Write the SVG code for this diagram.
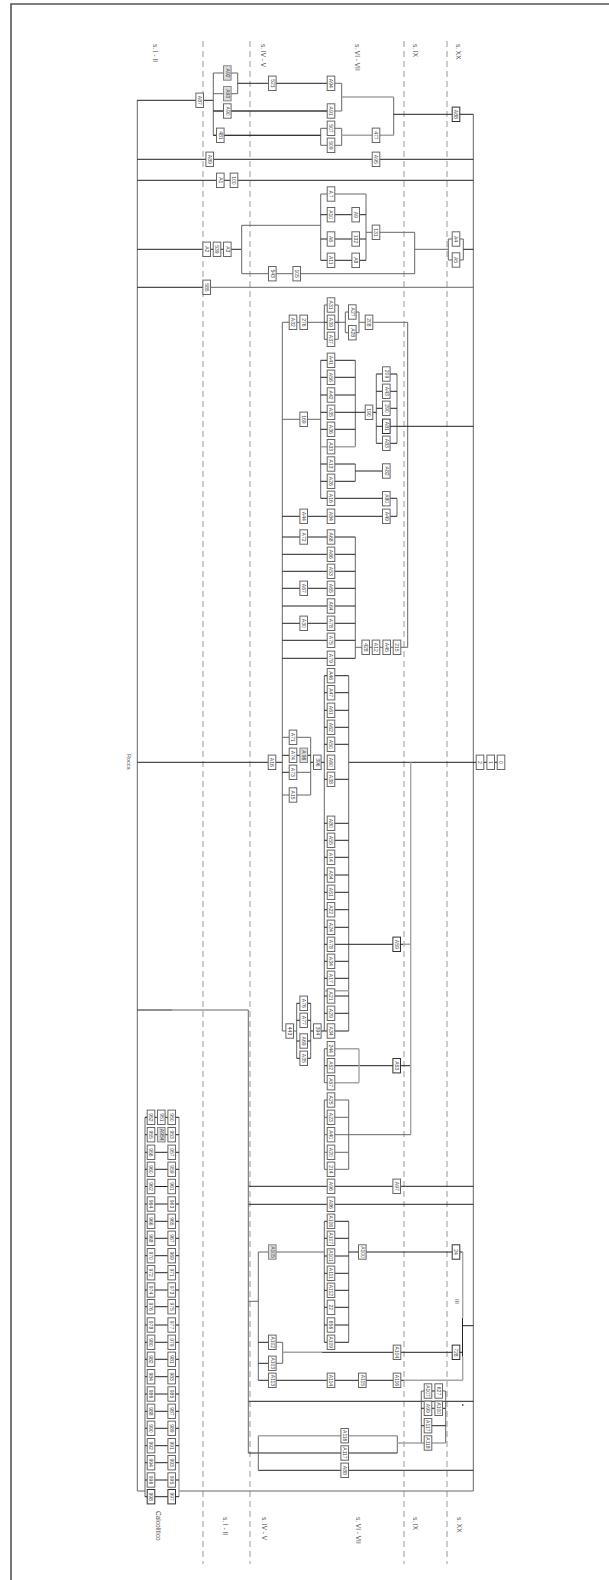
<svg xmlns="http://www.w3.org/2000/svg" width="609" height="1580" viewBox="0 0 609 1580">
<style>
text{font-family:"Liberation Sans",Arial,sans-serif;fill:#444;stroke:none}
.n{fill:#fff;stroke:#666;stroke-width:1}
.n text{font-size:5px;text-anchor:middle;transform:rotate(90deg) translateY(1.8px)}
.f{fill:#ddd;stroke:#888}
.k{stroke:#333}
.s{font-size:6.5px;fill:#555}
path{fill:none}
.d{stroke:#222;stroke-width:1}
.m{stroke:#666;stroke-width:1}
.l{stroke:#a5a5a5;stroke-width:1.4}
.da{stroke:#999;stroke-width:1;stroke-dasharray:6 4}
</style>
<defs><rect id="b" x="-3.8" y="-7.2" width="7.6" height="14.4"/></defs>
<g id="frame"><path d="M11 1580V4H609" stroke="#555" stroke-width="1.6"/></g>
<g id="section-lines"><path class="da" d="M203 41V1564M250 41V1564M404 41V1564M447 41V1564"/></g>
<g id="labels">
<text class="s" transform="translate(153 44) rotate(90)">s. I - II</text>
<text class="s" transform="translate(261 44) rotate(90)">s. IV - V</text>
<text class="s" transform="translate(355 44) rotate(90)">s. VI - VII</text>
<text class="s" transform="translate(413 44) rotate(90)">s. IX</text>
<text class="s" transform="translate(456 44) rotate(90)">s. XX</text>
<text class="s" transform="translate(223 1517) rotate(90)">s. I - II</text>
<text class="s" transform="translate(262 1517) rotate(90)">s. IV - V</text>
<text class="s" transform="translate(356 1517) rotate(90)">s. VI - VII</text>
<text class="s" transform="translate(413 1517) rotate(90)">s. IX</text>
<text class="s" transform="translate(457 1517) rotate(90)">s. XX</text>
<text class="s" transform="translate(156 1511) rotate(90)">Calcolitico</text>
<text class="s" style="font-size:5.5px" transform="translate(126.5 754) rotate(90)">Rocca</text>
<text class="s" style="font-size:6px" transform="translate(455 1299) rotate(90)">III</text>
</g>
<g id="connectors">
<path class="m" d="M137.3 100V1491M473.3 114.3V1491M137.3 1491H145M179 1491H473.3"/>
<path class="d" d="M137.3 100.3H213.3M137.3 159.3H473.3M137.3 180.3H473.3M137.3 249.3H241.7M137.3 287.3H203M137.3 762.3H282.3M348.7 762.3H501M137.3 1010H172M248.3 1186.3H473.3M248.3 1204.3H473.3M248.3 1401.3H473.3M248.3 1453H397.3M258.3 1470.3H473.3"/>
<path class="m" d="M203 287.3H473.3M172 1010H248.3V1453"/>
<path class="m" d="M213.3 73V135.3M213.3 73H227M213.3 93.7H227M213.3 111H331M213.3 135.3H320.7M237.7 73V93.7M227 73H237.7M227 93.7H237.7M341.7 83.3V111M331 111H341.7M331 83.3H341.7M393.7 97V135.3M320.7 128.3V145.3M320.7 128.3H331M320.7 145.3H331M341.7 128.3V145.3M331 128.3H341.7M331 145.3H341.7"/>
<path class="d" d="M237.7 83.3H331M213.3 111H331M213.3 135.3H320.7M393.7 114.3H473.3"/>
<path class="l" d="M341.7 97H393.7M341.7 135.3H393.7"/>
<path class="m" d="M241.7 225.3V273.7M241.7 225.3H320.7M241.7 273.7H414.7M320.7 194V260.3M366 194V260.3M320.7 194H366M366 232.3H414.7V273.7M414.7 249.3H448.3M448.3 239V260M463.3 239V260M448.3 239H456M448.3 260H456M456 239H463.3M456 260H463.3"/>
<path class="d" d="M320.7 214.7H366M320.7 239H366M320.7 260.3H366M463.3 249.3H473.3"/>
<path class="m" d="M282.3 322.3V1031M282.3 322.3H324.3M324.3 305V339.3M338.3 305V339.3M324.3 305H338.3M324.3 339.3H338.3M338.3 322.3H345.3M345.3 312V332.7M359 312V332.7M345.3 312H359M345.3 332.7H359M359 322.3H407.7V647.3"/>
<path class="d" d="M324.3 322.3H338.3"/>
<path class="m" d="M320.7 360.3V498.3M355.3 360.3V446.7M355.3 464V481.3M376.3 374V443.3M397 374V443.3M397 498.7V516.3M282.3 419.3H320.7"/>
<path class="d" d="M320.7 360.3H355.3M320.7 377.3H355.3M320.7 395H355.3M320.7 412.3H376.3M320.7 429.3H355.3M320.7 464H355.3M320.7 481.3H355.3M355.3 471H386M320.7 498.3H397M282.3 516.3H397M376.3 374H397M376.3 391.3H397M376.3 408.3H397M376.3 443.3H397M376.3 426.3H473.3"/>
<path class="l" d="M320.7 446.7H355.3"/>
<path class="m" d="M355.3 537V658.3M355.3 647.3H407.7"/>
<path class="d" d="M282.3 537H355.3M282.3 554.3H355.3M282.3 571.3H355.3M282.3 606H355.3M282.3 623.3H355.3M282.3 640.3H355.3M282.3 658.3H355.3M282.3 588.3H355.3"/>
<path class="m" d="M324.3 675.7V1031M348.7 675.7V1031M282.3 737.3H293M310.7 737.3V795M293 737.3H310.7M293 795H310.7M282.3 795H293M293 772.3H310.7M282.3 1031H296.7M296.7 1003.3V1058.3M310.7 1003.3V1058.3"/>
<path class="d" d="M282.3 755.3H310.7M282.3 772.3H293M310.7 762.3H324.3M324.3 675.7H348.7M324.3 692.7H348.7M324.3 710.3H348.7M324.3 727.3H348.7M324.3 744.3H348.7M324.3 779.3H348.7M324.3 823.3H348.7M324.3 840.3H348.7M324.3 857.3H348.7M324.3 875H348.7M324.3 892.3H348.7M324.3 909.7H348.7M324.3 927.3H348.7M324.3 944.3H403M324.3 961.3H348.7M324.3 978.3H348.7M324.3 996H348.7M324.3 1013.3H348.7M324.3 1031H348.7M296.7 1003.3H310.7M296.7 1020.3H310.7M296.7 1041H310.7M296.7 1058.3H310.7M310.7 1031H324.3M324.3 1065.7H410.7"/>
<path class="l" d="M324.3 990.8H348.7M410.7 762.3V1134.7M403 944.3H410.7M359 1048.7V1082.7M331 1048.7H359M331 1082.7H359"/>
<path class="m" d="M324.3 1048.7V1082.7M324.3 1048.7H331M324.3 1082.7H331M324.3 1100V1169.3M348.7 1100V1169.3M324.3 1100H348.7M324.3 1117.3H348.7M324.3 1134.7H410.7M324.3 1152.3H348.7M324.3 1169.3H348.7"/>
<path class="m" d="M248.3 1301.3H258.3M258.3 1252V1380.3M258.3 1435.7V1470.3M258.3 1252H324.3M324.3 1221.3V1342.3M348.7 1221.3V1342.3M282.7 1342.3V1363.3M272 1342.3H282.7M272 1363.3H282.7"/>
<path class="d" d="M324.3 1221.3H348.7M324.3 1238.3H348.7M324.3 1256H348.7M324.3 1273.3H348.7M324.3 1290.3H348.7M324.3 1307.3H348.7M324.3 1325H348.7M324.3 1342.3H348.7M348.7 1252H462.7M258.3 1342.3H272M258.3 1363.3H272M258.3 1380.3H404M462.5 1317.7V1356.7M462.5 1325.7H473.3M322 1352.3H462.5"/>
<path class="l" d="M282.7 1352.3H322M462.7 1252V1317.7M462.7 1356.7V1380.3M404 1380.3H462.7"/>
<path class="d" d="M462.8 1404V1406"/>
<path class="m" d="M421.3 1391V1443M445.7 1391V1443M421.3 1391H428M438.7 1391H445.7M397.3 1435.7V1453"/>
<path class="d" d="M428 1391H438.7M421.3 1408.3H445.7M421.3 1425.7H445.7"/>
<path class="l" d="M258.3 1435.7H397.3M397.3 1443H445.7"/>
<path class="m" d="M145 1117.3V1496.7M145 1117.3H151"/>
<path class="l" d="M179 1117.3V1496.7"/>
<path class="d" d="M145 1117.3H179M145 1134.7H179M145 1152.3H179M145 1169.3H179M145 1186.5H179M145 1204H179M145 1221.3H179M145 1238.3H179M145 1255.7H179M145 1272.7H179M145 1290H179M145 1306.7H179M145 1325H179M145 1342.3H179M145 1359.3H179M145 1376.7H179M145 1394H179M145 1411.3H179M145 1428.3H179M145 1445.7H179M145 1462.7H179M145 1480H179M145 1496.7H179"/>
</g>
<g id="nodes">
<g class="n" id="a87" transform="translate(199.7 100.3)"><use href="#b"/><text>A87</text></g>
<g class="n f" id="a92" transform="translate(227.3 73)"><use href="#b"/><text>A92</text></g>
<g class="n f" id="a93" transform="translate(227.3 93.7)"><use href="#b"/><text>A93</text></g>
<g class="n" id="a90" transform="translate(227.3 111)"><use href="#b"/><text>A90</text></g>
<g class="n" id="n481" transform="translate(220.3 135.3)"><use href="#b"/><text>481</text></g>
<g class="n" id="n521" transform="translate(272.3 83.3)"><use href="#b"/><text>521</text></g>
<g class="n" id="a94" transform="translate(331 83.3)"><use href="#b"/><text>A94</text></g>
<g class="n" id="a91" transform="translate(331 111)"><use href="#b"/><text>A91</text></g>
<g class="n" id="n507" transform="translate(331 128.3)"><use href="#b"/><text>507</text></g>
<g class="n" id="n509" transform="translate(331 145.3)"><use href="#b"/><text>509</text></g>
<g class="n" id="n477" transform="translate(376 135.3)"><use href="#b"/><text>477</text></g>
<g class="n k" id="a88" transform="translate(456 114.3)"><use href="#b"/><text>A88</text></g>
<g class="n" id="a89" transform="translate(209.7 159.3)"><use href="#b"/><text>A89</text></g>
<g class="n" id="a95" transform="translate(376 159.3)"><use href="#b"/><text>A95</text></g>
<g class="n" id="a1" transform="translate(220.3 180.3)"><use href="#b"/><text>A1</text></g>
<g class="n" id="n100" transform="translate(234 180.3)"><use href="#b"/><text>100</text></g>
<g class="n" id="a2" transform="translate(206.7 249.3)"><use href="#b"/><text>A2</text></g>
<g class="n" id="n539" transform="translate(217 249.3)"><use href="#b"/><text>539</text></g>
<g class="n" id="a3" transform="translate(227.3 249.3)"><use href="#b"/><text>A3</text></g>
<g class="n" id="n543" transform="translate(272.3 273.7)"><use href="#b"/><text>543</text></g>
<g class="n" id="n105" transform="translate(296.7 273.7)"><use href="#b"/><text>105</text></g>
<g class="n" id="a7" transform="translate(331 194)"><use href="#b"/><text>A 7</text></g>
<g class="n" id="a10" transform="translate(331 214.7)"><use href="#b"/><text>A10</text></g>
<g class="n" id="a6" transform="translate(331 239)"><use href="#b"/><text>A6</text></g>
<g class="n" id="a11" transform="translate(331 260.3)"><use href="#b"/><text>A11</text></g>
<g class="n" id="a9" transform="translate(355.7 214.7)"><use href="#b"/><text>A9</text></g>
<g class="n" id="n132" transform="translate(355.7 239)"><use href="#b"/><text>132</text></g>
<g class="n" id="a8" transform="translate(355.7 260.3)"><use href="#b"/><text>A8</text></g>
<g class="n" id="n131" transform="translate(376 232.3)"><use href="#b"/><text>131</text></g>
<g class="n" id="a4" transform="translate(456 239)"><use href="#b"/><text>A4</text></g>
<g class="n" id="a5" transform="translate(456 260)"><use href="#b"/><text>A5</text></g>
<g class="n" id="n585" transform="translate(206.7 287.3)"><use href="#b"/><text>585</text></g>
<g class="n" id="a32" transform="translate(293 322.3)"><use href="#b"/><text>A32</text></g>
<g class="n" id="n276" transform="translate(303.7 322.3)"><use href="#b"/><text>276</text></g>
<g class="n" id="a31" transform="translate(331 305)"><use href="#b"/><text>A31</text></g>
<g class="n" id="a39" transform="translate(331 322.3)"><use href="#b"/><text>A39</text></g>
<g class="n" id="a37" transform="translate(331 339.3)"><use href="#b"/><text>A37</text></g>
<g class="n" id="a27" transform="translate(352.3 312)"><use href="#b"/><text>A27</text></g>
<g class="n" id="a28" transform="translate(352.3 332.7)"><use href="#b"/><text>A28</text></g>
<g class="n" id="n208" transform="translate(369 322.3)"><use href="#b"/><text>208</text></g>
<g class="n" id="a41" transform="translate(331 360.3)"><use href="#b"/><text>A41</text></g>
<g class="n" id="a56" transform="translate(331 377.3)"><use href="#b"/><text>A56</text></g>
<g class="n" id="a42" transform="translate(331 395)"><use href="#b"/><text>A42</text></g>
<g class="n" id="a35" transform="translate(331 412.3)"><use href="#b"/><text>A35</text></g>
<g class="n" id="a36" transform="translate(331 429.3)"><use href="#b"/><text>A36</text></g>
<g class="n" id="a33" transform="translate(331 446.7)"><use href="#b"/><text>A33</text></g>
<g class="n" id="a13" transform="translate(331 464)"><use href="#b"/><text>A13</text></g>
<g class="n" id="a26" transform="translate(331 481.3)"><use href="#b"/><text>A26</text></g>
<g class="n" id="a16" transform="translate(331 498.3)"><use href="#b"/><text>A16</text></g>
<g class="n" id="a84" transform="translate(331 516.3)"><use href="#b"/><text>A84</text></g>
<g class="n" id="a82" transform="translate(386.3 471)"><use href="#b"/><text>A82</text></g>
<g class="n" id="a80" transform="translate(386.3 498.7)"><use href="#b"/><text>A80</text></g>
<g class="n" id="a49" transform="translate(386.3 516.3)"><use href="#b"/><text>A49</text></g>
<g class="n" id="n169" transform="translate(303.7 419.3)"><use href="#b"/><text>169</text></g>
<g class="n" id="a44" transform="translate(303.7 516.3)"><use href="#b"/><text>A44</text></g>
<g class="n" id="n190" transform="translate(369 412.3)"><use href="#b"/><text>190</text></g>
<g class="n" id="n209" transform="translate(386.3 374)"><use href="#b"/><text>209</text></g>
<g class="n" id="a43" transform="translate(386.3 391.3)"><use href="#b"/><text>A43</text></g>
<g class="n" id="n290" transform="translate(386.3 408.3)"><use href="#b"/><text>290</text></g>
<g class="n k" id="a81" transform="translate(386.3 426.3)"><use href="#b"/><text>A81</text></g>
<g class="n" id="a83" transform="translate(386.3 443.3)"><use href="#b"/><text>A83</text></g>
<g class="n" id="a68" transform="translate(331 537)"><use href="#b"/><text>A68</text></g>
<g class="n" id="a66" transform="translate(331 554.3)"><use href="#b"/><text>A66</text></g>
<g class="n" id="a53" transform="translate(331 571.3)"><use href="#b"/><text>A53</text></g>
<g class="n" id="a65" transform="translate(331 588.3)"><use href="#b"/><text>A65</text></g>
<g class="n" id="a64" transform="translate(331 606)"><use href="#b"/><text>A64</text></g>
<g class="n" id="a78" transform="translate(331 623.3)"><use href="#b"/><text>A78</text></g>
<g class="n" id="a75" transform="translate(331 640.3)"><use href="#b"/><text>A75</text></g>
<g class="n" id="a79" transform="translate(331 658.3)"><use href="#b"/><text>A79</text></g>
<g class="n" id="a72" transform="translate(303.7 537)"><use href="#b"/><text>A72</text></g>
<g class="n" id="a67" transform="translate(303.7 588.3)"><use href="#b"/><text>A67</text></g>
<g class="n" id="a30" transform="translate(303.7 623.3)"><use href="#b"/><text>A30</text></g>
<g class="n" id="n428" transform="translate(365.7 647.3)"><use href="#b"/><text>428</text></g>
<g class="n" id="a12" transform="translate(376 647.3)"><use href="#b"/><text>A12</text></g>
<g class="n" id="a45" transform="translate(386.7 647.3)"><use href="#b"/><text>A45</text></g>
<g class="n" id="n215" transform="translate(397 647.3)"><use href="#b"/><text>215</text></g>
<g class="n" id="a46" transform="translate(331 675.7)"><use href="#b"/><text>A46</text></g>
<g class="n" id="a47" transform="translate(331 692.7)"><use href="#b"/><text>A47</text></g>
<g class="n" id="a61" transform="translate(331 710.3)"><use href="#b"/><text>A61</text></g>
<g class="n" id="a62" transform="translate(331 727.3)"><use href="#b"/><text>A62</text></g>
<g class="n" id="a50" transform="translate(331 744.3)"><use href="#b"/><text>A50</text></g>
<g class="n" id="a60" transform="translate(331 762.3)"><use href="#b"/><text>A60</text></g>
<g class="n" id="a38" transform="translate(331 779.3)"><use href="#b"/><text>A38</text></g>
<g class="n" id="a80b" transform="translate(331 823.3)"><use href="#b"/><text>A80</text></g>
<g class="n" id="a55" transform="translate(331 840.3)"><use href="#b"/><text>A55</text></g>
<g class="n" id="a14" transform="translate(331 857.3)"><use href="#b"/><text>A14</text></g>
<g class="n" id="a54" transform="translate(331 875)"><use href="#b"/><text>A54</text></g>
<g class="n" id="a51" transform="translate(331 892.3)"><use href="#b"/><text>A51</text></g>
<g class="n" id="a22" transform="translate(331 909.7)"><use href="#b"/><text>A22</text></g>
<g class="n" id="a24" transform="translate(331 927.3)"><use href="#b"/><text>A24</text></g>
<g class="n" id="a78b" transform="translate(331 944.3)"><use href="#b"/><text>A78</text></g>
<g class="n" id="a34" transform="translate(331 961.3)"><use href="#b"/><text>A34</text></g>
<g class="n" id="a17" transform="translate(331 978.3)"><use href="#b"/><text>A17</text></g>
<g class="n" id="a21" transform="translate(331 996)"><use href="#b"/><text>A21</text></g>
<g class="n" id="a29" transform="translate(331 1013.3)"><use href="#b"/><text>A29</text></g>
<g class="n" id="a34b" transform="translate(331 1031)"><use href="#b"/><text>A34</text></g>
<g class="n" id="n244" transform="translate(331 1048.7)"><use href="#b"/><text>244</text></g>
<g class="n" id="a52" transform="translate(331 1065.7)"><use href="#b"/><text>A52</text></g>
<g class="n" id="a57" transform="translate(331 1082.7)"><use href="#b"/><text>A57</text></g>
<g class="n" id="a16b" transform="translate(272 762.3)"><use href="#b"/><text>A16</text></g>
<g class="n" id="a71" transform="translate(293 737.3)"><use href="#b"/><text>A71</text></g>
<g class="n" id="a74" transform="translate(293 755.3)"><use href="#b"/><text>A74</text></g>
<g class="n" id="a73" transform="translate(293 772.3)"><use href="#b"/><text>A73</text></g>
<g class="n" id="a15" transform="translate(293 795)"><use href="#b"/><text>A15</text></g>
<g class="n f" id="a96" transform="translate(303.7 755.3)"><use href="#b"/><text>A 96</text></g>
<g class="n" id="n396" transform="translate(317.3 762.3)"><use href="#b"/><text>396</text></g>
<g class="n" id="n2" transform="translate(480 762.3)"><use href="#b"/><text>2</text></g>
<g class="n" id="n1" transform="translate(490.7 762.3)"><use href="#b"/><text>1</text></g>
<g class="n" id="n0" transform="translate(501 762.3)"><use href="#b"/><text>0</text></g>
<g class="n" id="n443" transform="translate(289.7 1031)"><use href="#b"/><text>443</text></g>
<g class="n" id="a76" transform="translate(303.7 1003.3)"><use href="#b"/><text>A76</text></g>
<g class="n" id="a77" transform="translate(303.7 1020.3)"><use href="#b"/><text>A77</text></g>
<g class="n" id="a69" transform="translate(303.7 1041)"><use href="#b"/><text>A69</text></g>
<g class="n" id="a35b" transform="translate(303.7 1058.3)"><use href="#b"/><text>A35</text></g>
<g class="n" id="n394" transform="translate(317.3 1031)"><use href="#b"/><text>394</text></g>
<g class="n k" id="a59" transform="translate(396.7 944.3)"><use href="#b"/><text>A59</text></g>
<g class="n k" id="a53b" transform="translate(396.7 1065.7)"><use href="#b"/><text>A53</text></g>
<g class="n" id="a25" transform="translate(331 1100)"><use href="#b"/><text>A25</text></g>
<g class="n" id="a23" transform="translate(331 1117.3)"><use href="#b"/><text>A23</text></g>
<g class="n" id="a40" transform="translate(331 1134.7)"><use href="#b"/><text>A40</text></g>
<g class="n" id="a20" transform="translate(331 1152.3)"><use href="#b"/><text>A20</text></g>
<g class="n" id="n214" transform="translate(331 1169.3)"><use href="#b"/><text>214</text></g>
<g class="n" id="a96b" transform="translate(331 1186.3)"><use href="#b"/><text>A96</text></g>
<g class="n" id="a97" transform="translate(396.7 1186.3)"><use href="#b"/><text>A97</text></g>
<g class="n" id="a86" transform="translate(331 1204.3)"><use href="#b"/><text>A86</text></g>
<g class="n f" id="a105" transform="translate(272.3 1252)"><use href="#b"/><text>A105</text></g>
<g class="n" id="a106" transform="translate(331 1221.3)"><use href="#b"/><text>A106</text></g>
<g class="n" id="a107" transform="translate(331 1238.3)"><use href="#b"/><text>A107</text></g>
<g class="n" id="a101" transform="translate(331 1256)"><use href="#b"/><text>A101</text></g>
<g class="n" id="a111" transform="translate(331 1273.3)"><use href="#b"/><text>A111</text></g>
<g class="n" id="a112" transform="translate(331 1290.3)"><use href="#b"/><text>A112</text></g>
<g class="n" id="n22" transform="translate(331 1307.3)"><use href="#b"/><text>22</text></g>
<g class="n" id="n656" transform="translate(331 1325)"><use href="#b"/><text>656</text></g>
<g class="n" id="a109" transform="translate(331 1342.3)"><use href="#b"/><text>A109</text></g>
<g class="n" id="a100" transform="translate(362.3 1252)"><use href="#b"/><text>A100</text></g>
<g class="n k" id="n24" transform="translate(456 1252)"><use href="#b"/><text>24</text></g>
<g class="n k" id="n728" transform="translate(456 1352.3)"><use href="#b"/><text>728</text></g>
<g class="n" id="a104" transform="translate(397 1352.3)"><use href="#b"/><text>A104</text></g>
<g class="n" id="a102" transform="translate(272.3 1342.3)"><use href="#b"/><text>A102</text></g>
<g class="n" id="a103" transform="translate(272.3 1363.3)"><use href="#b"/><text>A103</text></g>
<g class="n" id="a113" transform="translate(272.3 1380.3)"><use href="#b"/><text>A113</text></g>
<g class="n" id="a114" transform="translate(331 1380.3)"><use href="#b"/><text>A114</text></g>
<g class="n" id="a115" transform="translate(362.3 1380.3)"><use href="#b"/><text>A115</text></g>
<g class="n" id="a116" transform="translate(397 1380.3)"><use href="#b"/><text>A116</text></g>
<g class="n" id="a107b" transform="translate(428 1391)"><use href="#b"/><text>A107</text></g>
<g class="n" id="n627" transform="translate(438.7 1391)"><use href="#b"/><text>627</text></g>
<g class="n" id="a99" transform="translate(428 1408.3)"><use href="#b"/><text>A99</text></g>
<g class="n" id="a100b" transform="translate(438.7 1408.3)"><use href="#b"/><text>A100</text></g>
<g class="n" id="a117" transform="translate(428 1425.7)"><use href="#b"/><text>A117</text></g>
<g class="n" id="a118" transform="translate(428 1443)"><use href="#b"/><text>A118</text></g>
<g class="n" id="a116b" transform="translate(344.7 1435.7)"><use href="#b"/><text>A116</text></g>
<g class="n" id="a117b" transform="translate(344.7 1453)"><use href="#b"/><text>A117</text></g>
<g class="n" id="a88b" transform="translate(344.7 1470.3)"><use href="#b"/><text>A88</text></g>
<g class="n" id="c952" transform="translate(151 1117.3)"><use href="#b"/><text>952</text></g>
<g class="n" id="c951" transform="translate(161.3 1117.3)"><use href="#b"/><text>951</text></g>
<g class="n" id="c950" transform="translate(171.7 1117.3)"><use href="#b"/><text>950</text></g>
<g class="n" id="c955" transform="translate(151 1134.7)"><use href="#b"/><text>955</text></g>
<g class="n f" id="c954" transform="translate(161.3 1134.7)"><use href="#b"/><text>A954</text></g>
<g class="n" id="c953" transform="translate(171.7 1134.7)"><use href="#b"/><text>953</text></g>
<g class="n" id="c956" transform="translate(151 1152.3)"><use href="#b"/><text>956</text></g>
<g class="n" id="c957" transform="translate(171.7 1152.3)"><use href="#b"/><text>957</text></g>
<g class="n" id="c960" transform="translate(151 1169.3)"><use href="#b"/><text>960</text></g>
<g class="n" id="c959" transform="translate(171.7 1169.3)"><use href="#b"/><text>959</text></g>
<g class="n" id="c962" transform="translate(151 1186.5)"><use href="#b"/><text>962</text></g>
<g class="n" id="c961" transform="translate(171.7 1186.5)"><use href="#b"/><text>961</text></g>
<g class="n" id="c964" transform="translate(151 1204)"><use href="#b"/><text>964</text></g>
<g class="n" id="c963" transform="translate(171.7 1204)"><use href="#b"/><text>963</text></g>
<g class="n" id="c966" transform="translate(151 1221.3)"><use href="#b"/><text>966</text></g>
<g class="n" id="c965" transform="translate(171.7 1221.3)"><use href="#b"/><text>965</text></g>
<g class="n" id="c968" transform="translate(151 1238.3)"><use href="#b"/><text>968</text></g>
<g class="n" id="c967" transform="translate(171.7 1238.3)"><use href="#b"/><text>967</text></g>
<g class="n" id="c970" transform="translate(151 1255.7)"><use href="#b"/><text>970</text></g>
<g class="n" id="c969" transform="translate(171.7 1255.7)"><use href="#b"/><text>969</text></g>
<g class="n" id="c972" transform="translate(151 1272.7)"><use href="#b"/><text>972</text></g>
<g class="n" id="c971" transform="translate(171.7 1272.7)"><use href="#b"/><text>971</text></g>
<g class="n" id="c974" transform="translate(151 1290)"><use href="#b"/><text>974</text></g>
<g class="n" id="c973" transform="translate(171.7 1290)"><use href="#b"/><text>973</text></g>
<g class="n" id="c976" transform="translate(151 1306.7)"><use href="#b"/><text>976</text></g>
<g class="n" id="c975" transform="translate(171.7 1306.7)"><use href="#b"/><text>975</text></g>
<g class="n" id="c978" transform="translate(151 1325)"><use href="#b"/><text>978</text></g>
<g class="n" id="c977" transform="translate(171.7 1325)"><use href="#b"/><text>977</text></g>
<g class="n" id="c980" transform="translate(151 1342.3)"><use href="#b"/><text>980</text></g>
<g class="n" id="c979" transform="translate(171.7 1342.3)"><use href="#b"/><text>979</text></g>
<g class="n" id="c982" transform="translate(151 1359.3)"><use href="#b"/><text>982</text></g>
<g class="n" id="c981" transform="translate(171.7 1359.3)"><use href="#b"/><text>981</text></g>
<g class="n" id="c984" transform="translate(151 1376.7)"><use href="#b"/><text>984</text></g>
<g class="n" id="c983" transform="translate(171.7 1376.7)"><use href="#b"/><text>983</text></g>
<g class="n" id="c986" transform="translate(151 1394)"><use href="#b"/><text>986</text></g>
<g class="n" id="c985" transform="translate(171.7 1394)"><use href="#b"/><text>985</text></g>
<g class="n" id="c988" transform="translate(151 1411.3)"><use href="#b"/><text>988</text></g>
<g class="n" id="c987" transform="translate(171.7 1411.3)"><use href="#b"/><text>987</text></g>
<g class="n" id="c990" transform="translate(151 1428.3)"><use href="#b"/><text>990</text></g>
<g class="n" id="c989" transform="translate(171.7 1428.3)"><use href="#b"/><text>989</text></g>
<g class="n" id="c992" transform="translate(151 1445.7)"><use href="#b"/><text>992</text></g>
<g class="n" id="c991" transform="translate(171.7 1445.7)"><use href="#b"/><text>991</text></g>
<g class="n" id="c994" transform="translate(151 1462.7)"><use href="#b"/><text>994</text></g>
<g class="n" id="c993" transform="translate(171.7 1462.7)"><use href="#b"/><text>993</text></g>
<g class="n" id="c996" transform="translate(151 1480)"><use href="#b"/><text>996</text></g>
<g class="n" id="c995" transform="translate(171.7 1480)"><use href="#b"/><text>995</text></g>
<g class="n k" id="c998" transform="translate(151 1496.7)"><use href="#b"/><text>998</text></g>
<g class="n k" id="c997" transform="translate(171.7 1496.7)"><use href="#b"/><text>997</text></g>
</g>
</svg>
